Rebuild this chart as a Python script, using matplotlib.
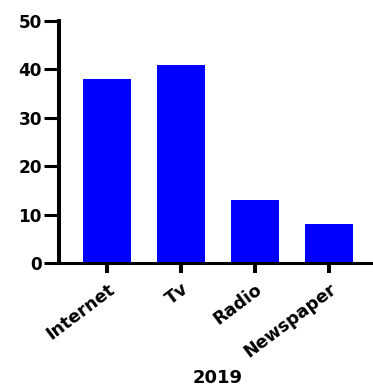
import matplotlib
matplotlib.use("Agg")
import matplotlib.pyplot as plt
from matplotlib.transforms import ScaledTranslation

categories = ["Internet", "Tv", "Radio", "Newspaper"]
values = [38, 41, 13, 8]
yticks = [0, 10, 20, 30, 40, 50]
xlabel = "2019"

plt.rcParams["font.family"] = ["DejaVu Sans"]
plt.rcParams["font.weight"] = "bold"

fig = plt.figure(figsize=(3.73, 3.90), dpi=100)
ax = fig.add_axes([0.1582, 0.3256, 0.8525, 0.6205])

x = list(range(len(categories)))
ax.bar(x, values, width=0.66, color="#0000FF", edgecolor="none")

ax.set_xlim(-0.65, 3.65)
ax.set_ylim(0, 50)
ax.set_yticks(yticks)
ax.set_yticklabels([str(t) for t in yticks], fontsize=12.2, fontweight="bold")
ax.set_xticks(x)
ax.set_xticklabels(categories, rotation=37, ha="right", va="top",
                   rotation_mode="anchor", fontsize=12.6, fontweight="bold")
shift = ScaledTranslation(3 / 100, 0, fig.dpi_scale_trans)
for lbl in ax.get_xticklabels():
    lbl.set_transform(lbl.get_transform() + shift)

ax.set_xlabel(xlabel, fontsize=13, fontweight="bold", va="center")
ax.xaxis.set_label_coords(0.5, -0.476)

for side in ("top", "right"):
    ax.spines[side].set_visible(False)
ax.spines["left"].set_linewidth(2.9)
ax.spines["bottom"].set_linewidth(2.2)
ax.tick_params(axis="x", width=2.9, length=7.2, pad=5, color="black")
ax.tick_params(axis="y", width=2.2, length=10.8, pad=1.5, color="black")

fig.savefig("out.png", dpi=100)
